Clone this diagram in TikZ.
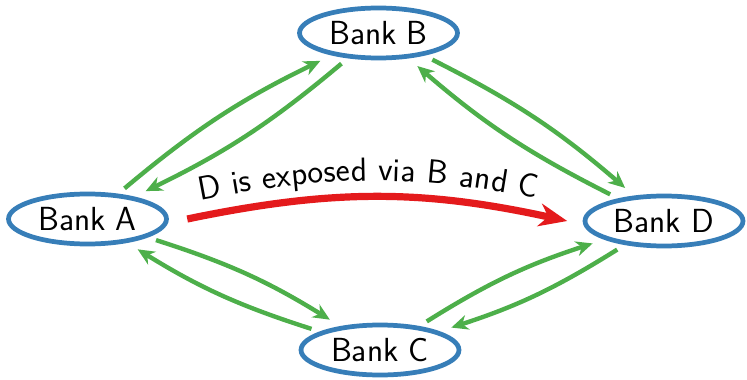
\documentclass[tikz,border=0pt]{standalone}
\usetikzlibrary{arrows.meta,shapes.geometric,decorations.text}
\definecolor{bankblue}{HTML}{377EB8}
\definecolor{linkgreen}{HTML}{4DAF4A}
\definecolor{riskred}{HTML}{E41A1C}
\begin{document}
\begin{tikzpicture}[x=0.02cm,y=0.02cm,
  bank/.style={ellipse, draw=bankblue, line width=2.7pt,
    minimum width=3.16cm, minimum height=1.0cm, inner sep=0pt, outer sep=5pt,
    font=\sffamily\fontsize{19}{22}\selectfont},
  link/.style={draw=linkgreen, line width=2.5pt,
    -{Stealth[length=9.5pt,width=8.5pt,inset=3pt]}, bend left=7, shorten >=2pt},
  risk/.style={draw=riskred, line width=4.1pt,
    -{Stealth[length=16pt,width=13pt,inset=5pt]}}]
\useasboundingbox (0,0) rectangle (747,379);

% banks
\node[bank] (A) at (87.5,160) {Bank A};
\node[bank] (B) at (378.5,346) {Bank B};
\node[bank] (C) at (380,29) {Bank C};
\node[bank] (D) at (664,158) {Bank D};

% mutual exposures
\draw[link] (A) to (B);
\draw[link] (B) to (A);
\draw[link] (B) to (D);
\draw[link] (D) to (B);
\draw[link] (A) to (C);
\draw[link] (C) to (A);
\draw[link] (C) to (D);
\draw[link] (D) to (C);

% indirect exposure of D
\coordinate (rs) at ([xshift=0.24cm]A.east);
\coordinate (re) at ([xshift=-0.18cm]D.west);
\draw[risk] (rs) to[bend left=12] (re);
\path[postaction={decorate,decoration={text along path,raise=9pt,
    text align={center, right indent=0.36cm},
    text={|\sffamily\fontsize{19}{22}\selectfont|D is exposed via B and C}}}]
  (rs) to[bend left=12] (re);
\end{tikzpicture}
\end{document}
